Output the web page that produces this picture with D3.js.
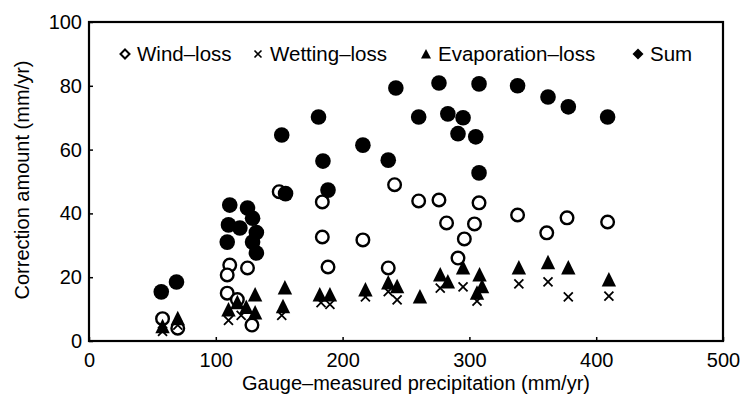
<!DOCTYPE html>
<html>
<head>
<meta charset="utf-8">
<script src="https://d3js.org/d3.v7.min.js"></script>
<style>
  body { margin: 0; background: #fff; }
  text { font-family: "Liberation Sans", Arial, sans-serif; fill: #000; }
</style>
</head>
<body>
<svg id="vis"></svg>
<script>
    // values: [gauge precipitation, correction] in mm/yr
    let windLoss = [[58, 7], [70, 4], [111, 23.8], [109, 20.7], [125, 22.9], [109, 15], [117, 13], [128.5, 5],
        [150, 46.8], [184, 43.6], [184, 32.6], [188.5, 23.2], [216, 31.7], [236, 22.9], [241, 49], [260, 43.9],
        [276, 44.2], [282, 37], [291, 26], [296, 32], [304, 36.7], [307.6, 43.3], [338, 39.5], [361, 33.9],
        [377, 38.6], [409, 37.3]];
    let wettingLoss = [[58, 3], [70, 5], [110, 6.5], [120, 8], [152, 8], [183, 12], [190, 11.5], [218, 13.8],
        [236, 15.5], [243, 12.9], [277, 16.6], [295, 17], [306, 12.5], [339, 17.9], [362, 18.5], [378, 13.8],
        [410, 14.1]];
    let evaporationLoss = [[58, 4.5], [70, 7], [110, 9.7], [117, 12], [124, 10.5], [131, 14.4], [131, 8.8],
        [154.5, 16.6], [153, 10.7], [182, 14.4], [190, 14.4], [218, 16], [236, 18.2], [243, 17], [261, 13.8],
        [277, 20.7], [283, 18.5], [295, 22.9], [308, 20.7], [310, 17], [306, 15], [339, 22.9], [362, 24.5],
        [378, 22.9], [410, 19.1]];
    let sumLoss = [[57, 15.4], [69, 18.5], [111, 42.6], [125, 41.7], [110, 36.4], [129, 38.5], [119, 35.4],
        [132, 34], [109, 31], [129, 31], [132, 27.6], [152, 64.6], [155, 46.2], [181, 70.2], [184.5, 56.4],
        [188.5, 47.3], [216, 61.4], [236, 56.7], [242, 79.3], [260, 70.2], [276, 80.9], [283, 71.2], [291, 65],
        [295, 70], [305, 64], [307.6, 80.6], [307.6, 52.7], [338, 80], [362, 76.5], [378, 73.4], [409, 70.2]];

    let xTicks = [0, 100, 200, 300, 400, 500];
    let yTicks = [0, 20, 40, 60, 80, 100];
    let legendNames = ["Wind\u2013loss", "Wetting\u2013loss", "Evaporation\u2013loss", "Sum"];

    let width = 741, height = 398;
    let svg = d3.select("#vis").attr("width", width).attr("height", height);

    let x = d3.scaleLinear().domain([0, 500]).range([89, 723]);
    let y = d3.scaleLinear().domain([0, 100]).range([341, 22]);

    // axes: ticks point inward, labels drawn by the axis
    let xAxis = svg.append("g")
        .attr("transform", `translate(0,${y(0)})`)
        .call(d3.axisBottom(x).tickValues(xTicks).tickSizeInner(-4).tickSizeOuter(0).tickPadding(12));
    let yAxis = svg.append("g")
        .attr("transform", `translate(${x(0)},0)`)
        .call(d3.axisLeft(y).tickValues(yTicks).tickSizeInner(-4).tickSizeOuter(0).tickPadding(7));
    [xAxis, yAxis].forEach(a => {
        a.select(".domain").remove();
        a.selectAll("line").attr("stroke", "#000").attr("stroke-width", 1.5);
        a.selectAll("text").attr("font-size", 20).attr("font-family", "Liberation Sans, Arial, sans-serif");
    });

    // frame
    svg.append("rect")
        .attr("x", x(0)).attr("y", y(100))
        .attr("width", x(500) - x(0)).attr("height", y(0) - y(100))
        .attr("fill", "none").attr("stroke", "#000").attr("stroke-width", 2.2);

    // axis titles
    svg.append("text")
        .attr("x", 416).attr("y", 390)
        .attr("text-anchor", "middle").attr("font-size", 20)
        .text("Gauge\u2013measured precipitation (mm/yr)");
    svg.append("text")
        .attr("transform", `translate(29,180)rotate(-90)`)
        .attr("text-anchor", "middle").attr("font-size", 20)
        .text("Correction amount (mm/yr)");

    let tri = "M0,-8L7.2,6.5L-7.2,6.5Z";
    let cross = "M-4.5,-4.5L4.5,4.5M-4.5,4.5L4.5,-4.5";

    let plot = svg.append("g");

    plot.selectAll(".wind").data(windLoss).join("circle")
        .attr("class", "wind")
        .attr("cx", d => x(d[0])).attr("cy", d => y(d[1]))
        .attr("r", 6.3).attr("fill", "#fff").attr("stroke", "#000").attr("stroke-width", 2.4);

    plot.selectAll(".wet").data(wettingLoss).join("path")
        .attr("class", "wet")
        .attr("d", cross)
        .attr("transform", d => `translate(${x(d[0])},${y(d[1])})`)
        .attr("stroke", "#000").attr("stroke-width", 1.8).attr("fill", "none");

    plot.selectAll(".evap").data(evaporationLoss).join("path")
        .attr("class", "evap")
        .attr("d", tri)
        .attr("transform", d => `translate(${x(d[0])},${y(d[1])})`)
        .attr("fill", "#000");

    plot.selectAll(".sum").data(sumLoss).join("circle")
        .attr("class", "sum")
        .attr("cx", d => x(d[0])).attr("cy", d => y(d[1]))
        .attr("r", 7.8).attr("fill", "#000");

    // legend
    let legend = svg.append("g");
    let legendX = [125, 258, 426, 638];
    let legendY = 54;
    legend.append("path")
        .attr("d", "M0,-4.5L4.5,0L0,4.5L-4.5,0Z")
        .attr("transform", `translate(${legendX[0]},${legendY})`)
        .attr("fill", "#fff").attr("stroke", "#000").attr("stroke-width", 2);
    legend.append("path")
        .attr("d", "M-3.5,-3.5L3.5,3.5M-3.5,3.5L3.5,-3.5")
        .attr("transform", `translate(${legendX[1]},${legendY})`)
        .attr("stroke", "#000").attr("stroke-width", 1.6);
    legend.append("path")
        .attr("d", "M0,-5L5,4.5L-5,4.5Z")
        .attr("transform", `translate(${legendX[2]},${legendY})`)
        .attr("fill", "#000");
    legend.append("path")
        .attr("d", "M0,-5.5L5.5,0L0,5.5L-5.5,0Z")
        .attr("transform", `translate(${legendX[3]},${legendY})`)
        .attr("fill", "#000");
    legend.selectAll("text").data(legendNames).join("text")
        .attr("x", (d, i) => legendX[i] + 12)
        .attr("y", legendY + 7)
        .attr("font-size", 20.5)
        .text(d => d);
</script>
</body>
</html>
